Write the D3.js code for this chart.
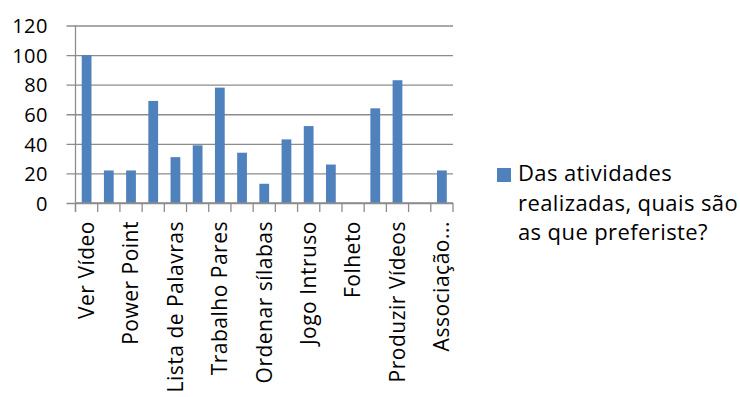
<!DOCTYPE html>
<html>
<head>
<meta charset="utf-8">
<script src="https://cdn.jsdelivr.net/npm/d3@7/dist/d3.min.js"></script>
<style>
  html, body { margin: 0; padding: 0; background: #fff; }
  svg { display: block; }
  text { font-family: "Open Sans", Lato, sans-serif; fill: #000; }
</style>
</head>
<body>
<svg id="chart" width="740" height="397"></svg>
<script>
// Responses per activity (17 categories; only every other label is printed on the axis)
const values = [100, 22, 22, 69, 31, 39, 78, 34, 13, 43, 52, 26, 0, 64, 83, 0, 22];
// Printed axis labels, shown at categories 0, 2, 4, ... 16
const tickLabels = ["Ver Vídeo", "Power Point", "Lista de Palavras", "Trabalho Pares",
  "Ordenar sílabas", "Jogo Intruso", "Folheto", "Produzir Vídeos", "Associação..."];
const yTicks = [0, 20, 40, 60, 80, 100, 120];
const seriesName = ["Das atividades", "realizadas, quais são", "as que preferiste?"];

const svg = d3.select("#chart");
const plotLeft = 75.5, plotRight = 453, plotTop = 25.5, plotBottom = 203;
const font = '"Open Sans", Lato, sans-serif';

const x = d3.scaleBand().domain(d3.range(values.length)).range([plotLeft, plotRight]).paddingInner(0.56).paddingOuter(0.28);
const y = d3.scaleLinear().domain([0, 120]).range([plotBottom, plotTop]);

// horizontal gridlines with outward ticks
const yAxis = svg.append("g").attr("transform", `translate(${plotLeft},0)`)
  .call(d3.axisLeft(y).tickValues(yTicks).tickSize(-(plotRight - plotLeft)).tickSizeOuter(0));
yAxis.select(".domain").remove();
yAxis.selectAll(".tick line").attr("stroke", "#8c8c8c").attr("stroke-width", 1.3).attr("x1", -9);
yAxis.selectAll(".tick text").attr("x", 48 - plotLeft).attr("text-anchor", "end")
  .attr("font-size", 20).attr("font-family", font).attr("fill", "#000")
  .attr("letter-spacing", 0.5).attr("dy", "0.36em");

// vertical axis line
svg.append("line").attr("x1", plotLeft).attr("x2", plotLeft).attr("y1", plotTop).attr("y2", plotBottom + 9)
  .attr("stroke", "#8c8c8c").attr("stroke-width", 1.3);

// bars
svg.append("g").selectAll("rect").data(values).join("rect")
  .attr("x", (d, i) => x(i)).attr("width", x.bandwidth())
  .attr("y", d => y(d)).attr("height", d => plotBottom - y(d))
  .attr("fill", "#4f81bd");

// baseline and category boundary ticks
svg.append("line").attr("x1", plotLeft).attr("x2", plotRight).attr("y1", plotBottom).attr("y2", plotBottom)
  .attr("stroke", "#8c8c8c").attr("stroke-width", 1.3);
const step = x.step();
svg.append("g").selectAll("line").data(d3.range(values.length + 1)).join("line")
  .attr("x1", i => plotLeft + i * step).attr("x2", i => plotLeft + i * step)
  .attr("y1", plotBottom).attr("y2", plotBottom + 9)
  .attr("stroke", "#8c8c8c").attr("stroke-width", 1.3);

// rotated category labels
svg.append("g").selectAll("text").data(tickLabels).join("text")
  .attr("transform", (d, k) => `translate(${x(k * 2) + x.bandwidth() / 2},221) rotate(-90)`)
  .attr("text-anchor", "end").attr("dy", "0.35em")
  .attr("font-size", 21).attr("letter-spacing", 0.5).text(d => d);

// legend
const lg = svg.append("g");
lg.append("rect").attr("x", 497).attr("y", 168).attr("width", 14).attr("height", 14).attr("fill", "#4f81bd");
lg.selectAll("text").data(seriesName).join("text")
  .attr("x", 518).attr("y", (d, i) => 181 + i * 29.5)
  .attr("font-size", 22).attr("letter-spacing", 0.4).text(d => d);
</script>
</body>
</html>
